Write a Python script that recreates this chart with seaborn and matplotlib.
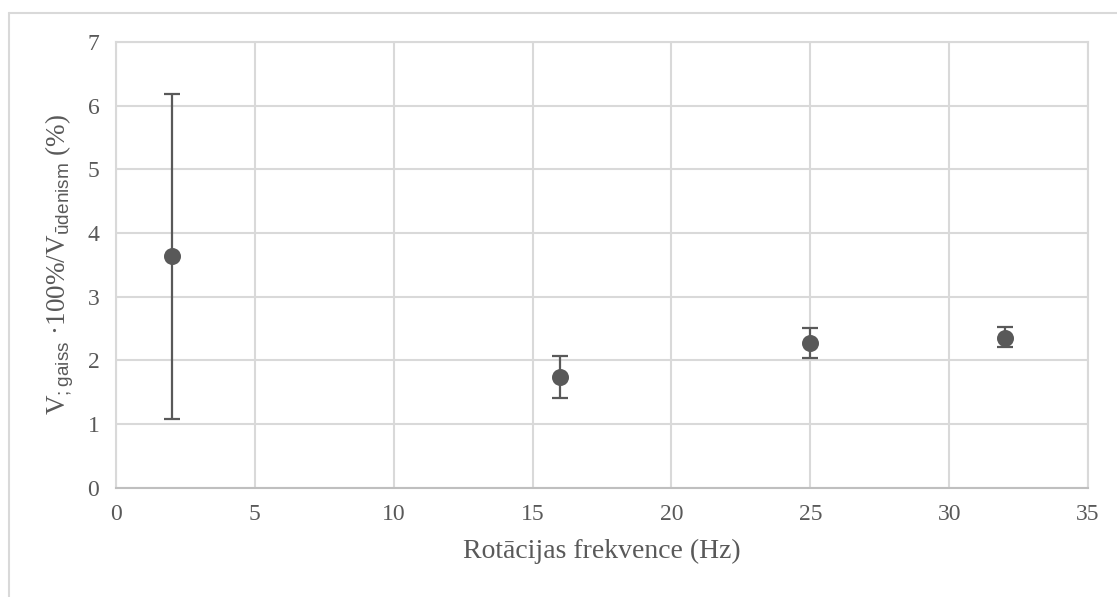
import seaborn as sns
import matplotlib.pyplot as plt
import pandas as pd
from matplotlib.lines import Line2D

# data
freq = [2, 16, 25, 32]
ratio = [3.63, 1.74, 2.27, 2.35]
err_low = [1.08, 1.41, 2.04, 2.20]
err_high = [6.19, 2.07, 2.50, 2.52]

df = pd.DataFrame({"freq": freq, "ratio": ratio})

sns.set_style("white")
plt.rcParams['font.family'] = ['Liberation Serif', 'DejaVu Sans']
plt.rcParams['mathtext.fontset'] = 'custom'
plt.rcParams['mathtext.rm'] = 'Liberation Sans'

fig = plt.figure(figsize=(11.17, 5.97), dpi=100)
ax = fig.add_axes([116 / 1117, 1 - 487.5 / 597, (1088 - 116) / 1117, (487.5 - 42) / 597])

grey = "#595959"
yerr = [[r - lo for r, lo in zip(ratio, err_low)], [hi - r for r, hi in zip(ratio, err_high)]]
ax.errorbar(freq, ratio, yerr=yerr, fmt="none", ecolor=grey, elinewidth=1.6,
            capsize=5.5, capthick=1.6, zorder=3)
sns.scatterplot(data=df, x="freq", y="ratio", color=grey, s=150, edgecolor=grey,
                linewidth=0, ax=ax, zorder=4)

ax.set_xlim(0, 35)
ax.set_ylim(0, 7)
ax.set_xticks(range(0, 36, 5))
ax.set_yticks(range(0, 8))
ax.grid(True, color="#d9d9d9", linewidth=1.5)
ax.set_axisbelow(True)
for s in ["top", "right", "left"]:
    ax.spines[s].set_color("#d9d9d9")
    ax.spines[s].set_linewidth(1.5)
ax.spines["bottom"].set_color("#bfbfbf")
ax.spines["bottom"].set_linewidth(1.5)
ax.tick_params(length=0, labelsize=17, labelcolor=grey, pad=12)

ax.set_xlabel("Rotācijas frekvence (Hz)", fontsize=20, color=grey, labelpad=10)
ax.set_ylabel(r"V$_{\mathrm{;gaiss}}$ ·100%/V$_{\mathrm{ūdenism}}$ (%)", fontsize=19.5,
              color=grey, labelpad=8)

# outer chart border
fig.add_artist(Line2D([9 / 1117, 1], [1 - 13 / 597] * 2, color="#d9d9d9", lw=1.5))
fig.add_artist(Line2D([9 / 1117] * 2, [0, 1 - 13 / 597], color="#d9d9d9", lw=1.5))

fig.savefig("out.png", dpi=100)
